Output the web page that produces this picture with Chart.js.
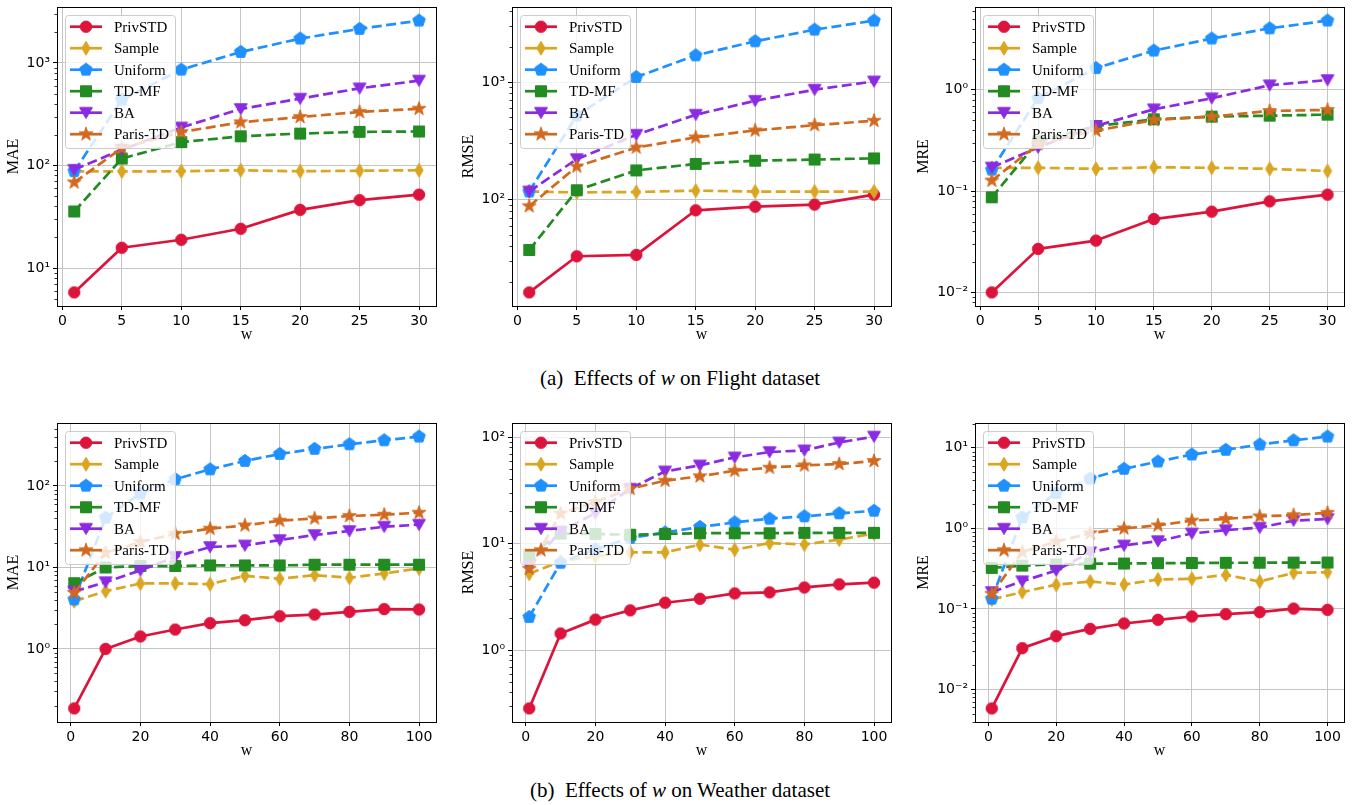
<!DOCTYPE HTML>
<html>
<head>
  <script src="https://cdn.jsdelivr.net/npm/chart.js"></script>
  <style>
    body { margin: 0; background: #fff; width: 1353px; height: 805px; position: relative; overflow: hidden; }
    canvas { position: absolute; }
    .caption { position: absolute; left: 0; width: 1360px; text-align: center;
               font-family: "Liberation Serif", serif; font-size: 21px; color: #000; line-height: 24px; }
  </style>
</head>
<body>
  <div class="caption" style="top: 366px;">(a)&nbsp; Effects of <i>w</i> on Flight dataset</div>
  <div class="caption" style="top: 778px;">(b)&nbsp; Effects of <i>w</i> on Weather dataset</div>

  <script>
    // series names, in plotting order
    var methods = ['PrivSTD', 'Sample', 'Uniform', 'TD-MF', 'BA', 'Paris-TD'];

    // x values (window size w)
    var wFlight = [1, 5, 10, 15, 20, 25, 30];
    var wWeather = [1, 10, 20, 30, 40, 50, 60, 70, 80, 90, 100];

    // tick labels
    var xTicksFlight = [0, 5, 10, 15, 20, 25, 30];
    var xTicksWeather = [0, 20, 40, 60, 80, 100];
    var yTicksFlightMAE = [10, 100, 1000];
    var yTicksFlightRMSE = [100, 1000];
    var yTicksFlightMRE = [0.01, 0.1, 1];
    var yTicksWeatherMAE = [1, 10, 100];
    var yTicksWeatherRMSE = [1, 10, 100];
    var yTicksWeatherMRE = [0.01, 0.1, 1, 10];

    // one row per method (same order as methods)
    var flightMAE = [
      [5.8, 15.8, 18.9, 24.2, 37, 46, 52],
      [88, 87.7, 88, 90, 88, 89, 90],
      [88, 438, 861, 1280, 1727, 2148, 2588],
      [35.7, 117, 169, 193, 205, 213, 215],
      [91, 143, 235, 356, 449, 566, 673],
      [68.5, 148, 212, 264, 297, 333, 358]
    ];
    var flightRMSE = [
      [16.2, 32.9, 33.8, 81, 87, 90.6, 110],
      [117, 115, 116, 119, 117, 117, 117],
      [117, 520, 1103, 1688, 2222, 2792, 3335],
      [37.2, 120, 177, 201, 214, 219, 224],
      [117, 221, 356, 527, 693, 861, 1013],
      [87.7, 191, 277, 338, 387, 430, 468]
    ];
    var flightMRE = [
      [0.0100, 0.0269, 0.0325, 0.053, 0.0627, 0.0793, 0.0923],
      [0.170, 0.170, 0.166, 0.172, 0.170, 0.166, 0.158],
      [0.163, 0.83, 1.64, 2.44, 3.21, 4.05, 4.83],
      [0.0869, 0.31, 0.44, 0.512, 0.544, 0.556, 0.569],
      [0.171, 0.27, 0.44, 0.643, 0.826, 1.11, 1.25],
      [0.127, 0.29, 0.395, 0.504, 0.544, 0.619, 0.634]
    ];
    var weatherMAE = [
      [0.186, 1.0, 1.42, 1.73, 2.07, 2.25, 2.52, 2.64, 2.85, 3.08, 3.05],
      [3.85, 5.12, 6.36, 6.36, 6.24, 7.9, 7.26, 8.05, 7.47, 8.43, 9.72],
      [4.05, 40.8, 81, 121, 160, 203, 247, 285, 325, 364, 404],
      [6.41, 10, 10.4, 10.4, 10.6, 10.6, 10.6, 10.8, 10.8, 10.8, 10.8],
      [5.07, 6.6, 9.2, 13.5, 17.8, 18.6, 21.7, 25.0, 28.0, 31.6, 33.5],
      [4.88, 15.1, 20.5, 25.9, 29.9, 32.8, 37.5, 40.0, 42.8, 44.4, 47.0]
    ];
    var weatherRMSE = [
      [0.283, 1.43, 1.93, 2.36, 2.78, 3.03, 3.40, 3.48, 3.87, 4.14, 4.29],
      [5.21, 6.8, 7.6, 8.27, 8.27, 9.76, 8.75, 10.1, 9.8, 10.9, 12.4],
      [2.04, 6.6, 8.8, 11.3, 12.7, 14.3, 15.8, 17.1, 18.0, 19.2, 20.3],
      [7.8, 12.4, 12.3, 12.1, 12.3, 12.5, 12.5, 12.5, 12.6, 12.6, 12.6],
      [6.1, 13.0, 19.3, 32.7, 47.6, 54.2, 64.4, 72.3, 75, 89, 101],
      [5.8, 19.1, 24.5, 32.7, 38.9, 42.8, 48.3, 51.5, 54.2, 55.8, 59.6]
    ];
    var weatherMRE = [
      [0.00582, 0.0326, 0.0459, 0.0566, 0.066, 0.0733, 0.0806, 0.0861, 0.0912, 0.101, 0.0975],
      [0.131, 0.162, 0.200, 0.219, 0.201, 0.232, 0.237, 0.265, 0.219, 0.281, 0.286],
      [0.134, 1.37, 2.76, 4.15, 5.49, 6.76, 8.26, 9.44, 11.0, 12.4, 13.8],
      [0.323, 0.345, 0.358, 0.365, 0.366, 0.37, 0.372, 0.374, 0.375, 0.376, 0.377],
      [0.162, 0.221, 0.300, 0.505, 0.614, 0.695, 0.865, 0.951, 1.02, 1.25, 1.31],
      [0.154, 0.51, 0.685, 0.87, 1.0, 1.09, 1.25, 1.31, 1.41, 1.46, 1.56]
    ];

    var colors = ['#dc143c', '#daa520', '#1e90ff', '#228b22', '#8a2be2', '#d2691e'];
    var shapes = ['circle', 'diamond', 'pentagon', 'square', 'tridown', 'star'];

    // marker images (matplotlib-like o, d, p, s, v, *)
    function makeMarker(shape, color) {
      var c = document.createElement('canvas');
      c.width = c.height = 20;
      var g = c.getContext('2d');
      g.translate(10, 10);
      g.fillStyle = color;
      g.strokeStyle = color;
      g.lineWidth = 1;
      g.beginPath();
      var i, a;
      if (shape === 'circle') {
        g.arc(0, 0, 5.7, 0, Math.PI * 2);
      } else if (shape === 'diamond') {
        g.moveTo(0, -7); g.lineTo(4.1, 0); g.lineTo(0, 7); g.lineTo(-4.1, 0);
      } else if (shape === 'pentagon') {
        for (i = 0; i < 5; i++) {
          a = -Math.PI / 2 + i * 2 * Math.PI / 5;
          g.lineTo(6.6 * Math.cos(a), 6.6 * Math.sin(a));
        }
      } else if (shape === 'square') {
        g.rect(-5.5, -5.5, 11, 11);
      } else if (shape === 'tridown') {
        g.moveTo(-6.4, -5.2); g.lineTo(6.4, -5.2); g.lineTo(0, 5.8);
      } else if (shape === 'star') {
        for (i = 0; i < 10; i++) {
          a = -Math.PI / 2 + i * Math.PI / 5;
          var r = i % 2 ? 2.8 : 7.2;
          g.lineTo(r * Math.cos(a), r * Math.sin(a));
        }
      }
      g.closePath();
      g.fill();
      g.stroke();
      return c;
    }
    var markers = shapes.map(function (s, i) { return makeMarker(s, colors[i]); });

    var sup = { '-': '\u207b', '0': '\u2070', '1': '\u00b9', '2': '\u00b2', '3': '\u00b3', '4': '\u2074' };
    function powLabel(v) {
      var e = String(Math.round(Math.log10(v)));
      return '10' + e.split('').map(function (ch) { return sup[ch]; }).join('');
    }

    // frame, minor log ticks and the in-axes legend
    var framePlugin = {
      id: 'frame',
      afterDraw: function (chart) {
        var a = chart.chartArea, ctx = chart.ctx, ys = chart.scales.y;
        ctx.save();
        ctx.strokeStyle = '#000';
        ctx.lineWidth = 0.8;
        var lo = Math.floor(Math.log10(ys.min)), hi = Math.ceil(Math.log10(ys.max));
        for (var d = lo; d <= hi; d++) {
          for (var k = 2; k < 10; k++) {
            var v = k * Math.pow(10, d);
            if (v < ys.min || v > ys.max) continue;
            var py = Math.round(ys.getPixelForValue(v)) + 0.5;
            ctx.beginPath(); ctx.moveTo(a.left - 2.5, py); ctx.lineTo(a.left, py); ctx.stroke();
          }
        }
        ctx.lineWidth = 1;
        ctx.strokeRect(Math.round(a.left) + 0.5, Math.round(a.top) + 0.5,
                       Math.round(a.right - a.left), Math.round(a.bottom - a.top));

        var lx = a.left + 8, ly = a.top + 8, lw = 110, lh = 133;
        ctx.beginPath();
        ctx.roundRect(lx + 0.5, ly + 0.5, lw, lh, 3);
        ctx.fillStyle = 'rgba(255,255,255,0.8)';
        ctx.fill();
        ctx.strokeStyle = '#cccccc';
        ctx.stroke();
        chart.data.datasets.forEach(function (ds, i) {
          var ry = ly + 11.7 + i * 21.5;
          ctx.strokeStyle = ds.borderColor;
          ctx.lineWidth = ds.borderWidth;
          ctx.beginPath(); ctx.moveTo(lx + 5, ry); ctx.lineTo(lx + 37, ry); ctx.stroke();
          var m = ds.pointStyle;
          ctx.drawImage(m, lx + 21 - m.width / 2, ry - m.height / 2);
          ctx.fillStyle = '#000';
          ctx.font = '15px "Liberation Serif"';
          ctx.textBaseline = 'middle';
          ctx.fillText(ds.label, lx + 49, ry + 1);
        });
        ctx.restore();
      }
    };

    function makePanel(p) {
      var padTop = 12, xh = 42;
      var cv = document.createElement('canvas');
      cv.width = p.yw + p.w + p.padRight;
      cv.height = padTop + p.h + xh;
      cv.style.left = (p.left - p.yw) + 'px';
      cv.style.top = (p.top - padTop) + 'px';
      document.body.appendChild(cv);

      // matplotlib-style 5% margins
      var xmin = Math.min.apply(null, p.x), xmax = Math.max.apply(null, p.x);
      var xm = (xmax - xmin) * 0.05;
      var all = [].concat.apply([], p.rows);
      var lmin = Math.log10(Math.min.apply(null, all)), lmax = Math.log10(Math.max.apply(null, all));
      var lm = (lmax - lmin) * 0.05;

      var datasets = p.rows.map(function (row, i) {
        return {
          label: methods[i],
          data: row.map(function (v, j) { return { x: p.x[j], y: v }; }),
          borderColor: colors[i],
          backgroundColor: colors[i],
          borderWidth: 2.7,
          borderDash: i === 0 ? [] : [10, 4.5],
          borderCapStyle: 'butt',
          borderJoinStyle: 'round',
          pointStyle: markers[i],
          pointRadius: 6,
          tension: 0,
          order: methods.length - i
        };
      });

      new Chart(cv.getContext('2d'), {
        type: 'line',
        data: { datasets: datasets },
        options: {
          responsive: false,
          animation: false,
          devicePixelRatio: 1,
          events: [],
          layout: { padding: { top: padTop, right: p.padRight, left: 0, bottom: 0 } },
          plugins: { legend: { display: false }, tooltip: { enabled: false } },
          scales: {
            x: {
              type: 'linear',
              min: xmin - xm,
              max: xmax + xm,
              afterBuildTicks: function (s) { s.ticks = p.xTicks.map(function (v) { return { value: v }; }); },
              afterFit: function (s) { s.height = xh; },
              ticks: { autoSkip: false, maxRotation: 0, padding: 3, color: '#000',
                       font: { family: 'DejaVu Sans', size: 14 } },
              grid: { color: '#c4c4c4', lineWidth: 1, tickColor: '#000', tickLength: 4 },
              border: { display: false },
              title: { display: true, text: 'w', color: '#000',
                       font: { family: 'Liberation Serif', size: 16 } }
            },
            y: {
              type: 'logarithmic',
              min: Math.pow(10, lmin - lm),
              max: Math.pow(10, lmax + lm),
              afterBuildTicks: function (s) { s.ticks = p.yTicks.map(function (v) { return { value: v }; }); },
              afterFit: function (s) { s.width = p.yw; },
              ticks: { autoSkip: false, padding: 3, color: '#000',
                       font: { family: 'DejaVu Sans', size: 14 },
                       callback: function (v) { return powLabel(v); } },
              grid: { color: '#c4c4c4', lineWidth: 1, tickColor: '#000', tickLength: 4 },
              border: { display: false },
              title: { display: true, text: p.title, color: '#000',
                       font: { family: 'Liberation Serif', size: 16 } }
            }
          }
        },
        plugins: [framePlugin]
      });
    }

    var panels = [
      { x: wFlight, rows: flightMAE, xTicks: xTicksFlight, yTicks: yTicksFlightMAE, title: 'MAE',
        left: 57, top: 7, w: 380, h: 299, yw: 57, padRight: 8 },
      { x: wFlight, rows: flightRMSE, xTicks: xTicksFlight, yTicks: yTicksFlightRMSE, title: 'RMSE',
        left: 512, top: 7, w: 380, h: 299, yw: 57, padRight: 8 },
      { x: wFlight, rows: flightMRE, xTicks: xTicksFlight, yTicks: yTicksFlightMRE, title: 'MRE',
        left: 975, top: 7, w: 372, h: 299, yw: 65, padRight: 6 },
      { x: wWeather, rows: weatherMAE, xTicks: xTicksWeather, yTicks: yTicksWeatherMAE, title: 'MAE',
        left: 57, top: 423, w: 380, h: 299, yw: 57, padRight: 8 },
      { x: wWeather, rows: weatherRMSE, xTicks: xTicksWeather, yTicks: yTicksWeatherRMSE, title: 'RMSE',
        left: 512, top: 423, w: 380, h: 299, yw: 57, padRight: 8 },
      { x: wWeather, rows: weatherMRE, xTicks: xTicksWeather, yTicks: yTicksWeatherMRE, title: 'MRE',
        left: 975, top: 423, w: 372, h: 299, yw: 65, padRight: 6 }
    ];
    panels.forEach(makePanel);
  </script>
</body>
</html>
